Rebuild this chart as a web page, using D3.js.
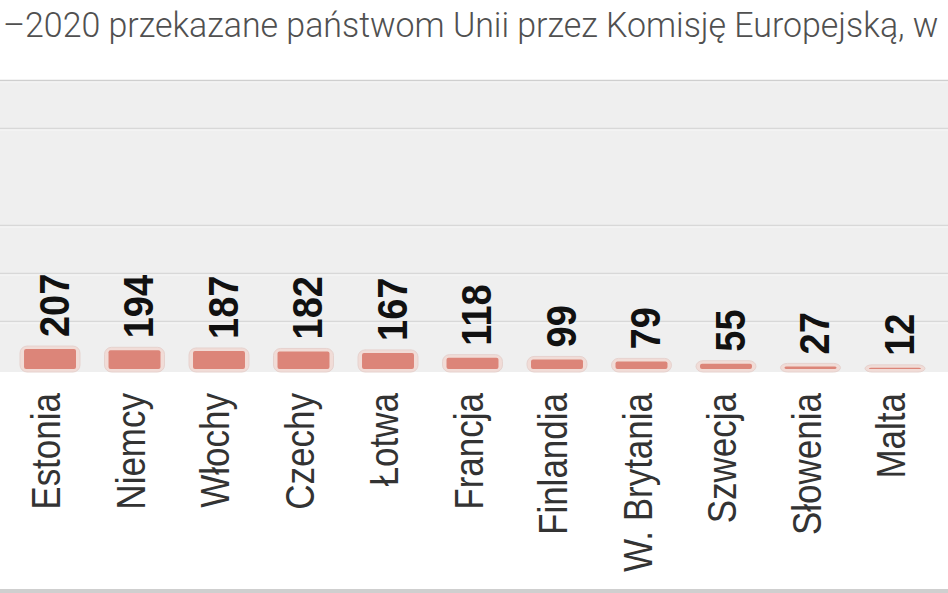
<!DOCTYPE html>
<html>
<head>
<meta charset="utf-8">
<script src="https://cdn.jsdelivr.net/npm/d3@7/dist/d3.min.js"></script>
<style>
  html, body { margin: 0; padding: 0; background: #fff; overflow: hidden; }
  svg { display: block; }
</style>
</head>
<body>
<script>
// ---- data ----
const categories = ["Estonia", "Niemcy", "Włochy", "Czechy", "Łotwa", "Francja", "Finlandia", "W. Brytania", "Szwecja", "Słowenia", "Malta"];
const values = [207, 194, 187, 182, 167, 118, 99, 79, 55, 27, 12];
const gridValues = [500, 1000, 1500, 2500, 3000];
const titleText = "–2020 przekazane państwom Unii przez Komisję Europejską, w";

// ---- layout ----
const W = 948, H = 593;
const baseY = 369, topY = 80;
const stretch = 1.14;

const svg = d3.select("body").append("svg").attr("width", W).attr("height", H);

const x = d3.scaleBand().domain(categories).range([-8.5, 953.5]).paddingInner(0.385).paddingOuter(0.385);
const y = d3.scaleLinear().domain([0, 3000]).range([baseY, topY]);

// plot background
svg.append("rect").attr("x", 0).attr("y", y(3000)).attr("width", W).attr("height", baseY + 3 - y(3000)).attr("fill", "#efefef");

// grid lines
const grid = svg.append("g");
grid.selectAll("line.g").data(gridValues).join("line")
  .attr("x1", 0).attr("x2", W)
  .attr("y1", d => Math.round(y(d)) + 0.5).attr("y2", d => Math.round(y(d)) + 0.5)
  .attr("stroke", d => d === 3000 ? "#cfcfcf" : "#d8d8d8").attr("stroke-width", 1.6);
grid.selectAll("line.h").data(gridValues).join("line")
  .attr("x1", 0).attr("x2", W)
  .attr("y1", d => Math.round(y(d)) + 2).attr("y2", d => Math.round(y(d)) + 2)
  .attr("stroke", "#f8f8f8").attr("stroke-width", 1);

// title (scaled horizontally to fit the width)
const titleG = svg.append("g");
const title = titleG.append("text")
  .attr("x", 0).attr("y", 0)
  .attr("font-family", "'Liberation Sans Narrow', 'Roboto', 'Liberation Sans', sans-serif")
  .attr("font-size", 35)
  .attr("font-weight", 300)
  .attr("fill", "#505050")
  .text(titleText);
const natW = title.node().getComputedTextLength() || 938;
titleG.attr("transform", `translate(3,37) scale(${936 / natW},1)`);

// bars: halo + fill
const bars = svg.append("g");
bars.selectAll("rect.halo").data(values).join("rect")
  .attr("x", (d, i) => x(categories[i]) - 4)
  .attr("width", x.bandwidth() + 8)
  .attr("y", d => y(d) - 3)
  .attr("height", d => baseY - y(d) + 6)
  .attr("rx", 7)
  .attr("fill", "#f1dcd7")
  .attr("stroke", "#e6d2ce").attr("stroke-width", 1);
bars.selectAll("rect.bar").data(values).join("rect")
  .attr("x", (d, i) => x(categories[i]))
  .attr("width", x.bandwidth())
  .attr("y", d => y(d))
  .attr("height", d => baseY - y(d))
  .attr("rx", 2)
  .attr("fill", "#dc8579");

// value labels
const vl = svg.append("g");
vl.selectAll("g").data(values).join("g")
  .attr("transform", (d, i) => `translate(${x(categories[i]) + x.bandwidth() / 2 + 3},${y(d) - 12}) scale(${stretch},1)`)
  .append("text")
  .attr("transform", "rotate(-90)")
  .attr("dy", "0.36em")
  .attr("text-anchor", "start")
  .attr("font-family", "'Liberation Sans', Arial, sans-serif")
  .attr("font-weight", "bold")
  .attr("font-size", 38)
  .attr("fill", "#111")
  .text(d => d);

// category labels
const cl = svg.append("g");
cl.selectAll("g").data(categories).join("g")
  .attr("transform", d => `translate(${x(d) + x.bandwidth() / 2 - 4},393) scale(${stretch},1)`)
  .append("text")
  .attr("transform", "rotate(-90)")
  .attr("dy", "0.36em")
  .attr("text-anchor", "end")
  .attr("font-family", "'Liberation Sans', Arial, sans-serif")
  .attr("font-size", 35)
  .attr("fill", "#333")
  .text(d => d);

// bottom border
svg.append("rect").attr("x", 0).attr("y", 589).attr("width", W).attr("height", 4).attr("fill", "#cfcfcf");
</script>
</body>
</html>
